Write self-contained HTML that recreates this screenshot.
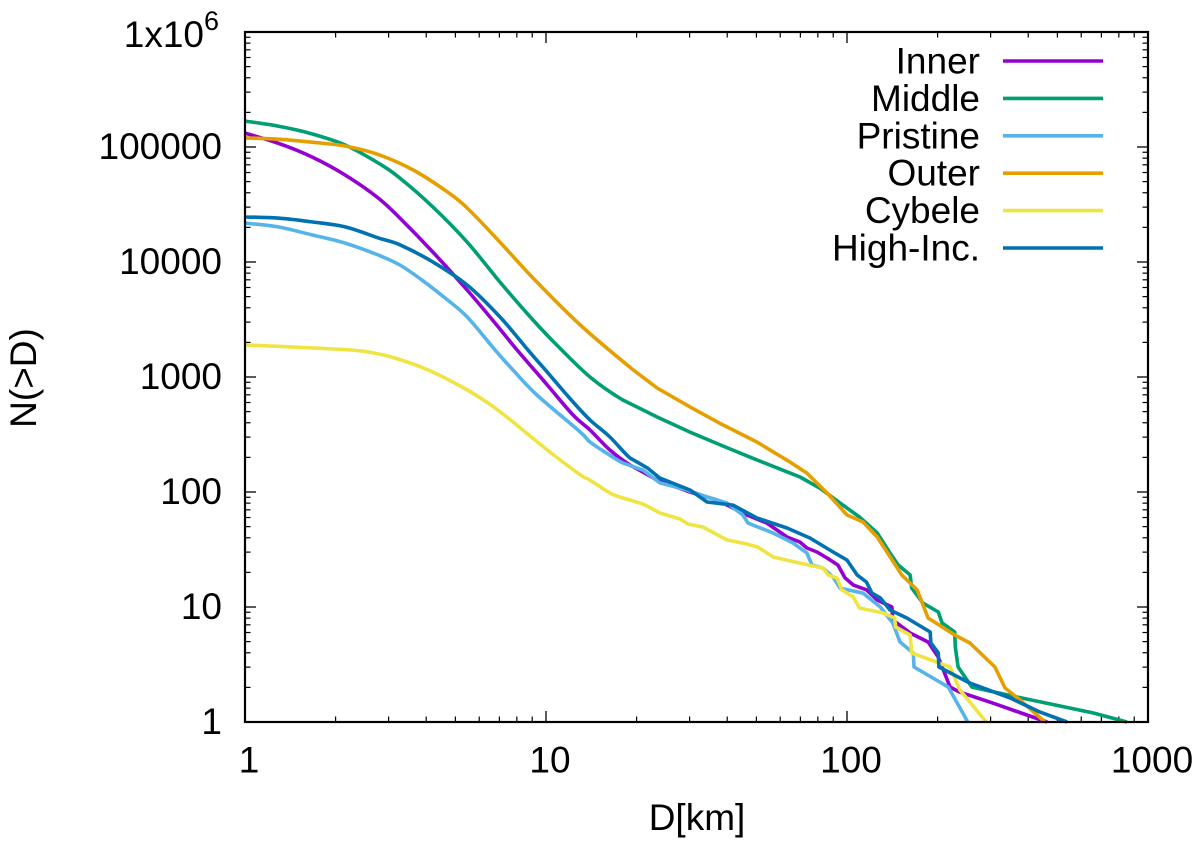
<!DOCTYPE html>
<html>
<head>
<meta charset="utf-8">
<title>N(>D) cumulative size distribution</title>
<style>
html,body{margin:0;padding:0;background:#fff;}
svg{display:block;}
text{font-family:"Liberation Sans",sans-serif;fill:#000;}
</style>
</head>
<body>
<svg id="chart" xmlns="http://www.w3.org/2000/svg" width="1200" height="845" viewBox="0 0 1200 845">
<rect x="0" y="0" width="1200" height="845" fill="#fff"/>
<g id="ticks"></g>
<g id="series"></g>
<rect x="245" y="32" width="903" height="690" fill="none" stroke="#000" stroke-width="2.2"/>
<g id="tick-labels" font-size="37"></g>
<text x="697" y="830" font-size="37" text-anchor="middle">D[km]</text>
<text x="0" y="0" font-size="37" text-anchor="middle" transform="translate(36,378) rotate(-90)">N(&gt;D)</text>
<g id="legend"></g>
</svg>
<script>
const xTickValues = [1, 10, 100, 1000];
const xTickLabels = ["1", "10", "100", "1000"];
const yTickValues = [1, 10, 100, 1000, 10000, 100000, 1000000];
const yTickLabels = ["1", "10", "100", "1000", "10000", "100000", "1x10"];
const seriesNames = ["Inner", "Middle", "Pristine", "Outer", "Cybele", "High-Inc."];

const innerD = [1,1.287,1.67,2.15,2.77,3.27,4.21,5.47,6.77,8.01,10.1,12.3,14,16.3,19,23.4,30.1,37,46.5,54.2,63.2,69.8,73.6,79.5,85.9,93.3,98.5,105,116,126,141,142,162,186,201,220,237,305,396,462];
const innerN = [132000,108000,81900,57100,36000,24100,12200,5710,2950,1720,852,467,346,232,172,127,100,85.2,63.1,53.7,40.6,36.7,32.6,30.1,26.7,23.2,17.9,15.5,14.1,11.5,10,7.71,5.94,4.96,3.67,2.01,1.82,1.46,1.15,1];

const middleD = [1,1.287,1.67,2.15,2.77,3.27,4.21,5.47,7.03,9.05,11.1,14,18,23.4,30.1,38.7,50.2,64.7,69.8,81.3,94.8,110,126,139,148,162,164,179,201,207,228,229,234,260,367,656,851];
const middleN = [168000,152000,130000,104000,72600,53700,30100,14900,6700,3130,1790,1000,631,449,332,251,190,146,135,108,80.2,60.6,44,29.5,23.2,19,14.6,10.8,9.05,7.26,6.06,4.49,3.01,2.01,1.65,1.2,1];

const pristineD = [1,1.287,1.67,2.15,2.77,3.27,3.87,4.62,5.47,6.77,7.77,9.33,13,14,15.9,18,21,23.9,29.4,34.3,39.9,45.1,46.9,56.8,66.2,73.6,76.5,83.2,89.9,94.8,113,129,142,150,166,167,217,252];
const pristineN = [21800,20200,17200,14600,11500,9420,6970,4860,3330,1720,1150,697,332,272,218,179,155,120,104,90.5,80.2,63.1,53.7,44,36,29.5,23.2,21.8,18.2,14.6,13.2,10,7.26,4.96,3.98,3.01,2.01,1];

const outerD = [1,1.287,1.67,2.15,2.77,3.62,4.62,5.47,7.03,9.05,13,19.5,23.4,30.1,38.7,50.2,64.7,73.6,85.9,100,113,126,147,152,171,186,228,256,310,335,376,455];
const outerN = [120000,117000,110000,102000,86000,63100,42000,29500,14900,7260,2830,1150,802,549,383,272,182,146,98,63.1,54.8,40.6,21.8,19,14.1,8.02,5.71,4.86,3.01,1.98,1.55,1];

const cybeleD = [1,1.67,2.45,3.15,4.06,5.26,6.42,7.48,10.1,13,14,16.3,18,21,23.9,27.9,29.6,33.2,39.9,46.5,50.6,56.8,69.8,83.2,86.5,92.6,96.2,105,110,132,144,145,162,164,220,237,290];
const cybeleN = [1900,1790,1680,1460,1150,818,594,440,232,141,127,98,88.7,78.7,65.7,58.2,52.7,49.6,38.3,35.3,33.2,27.2,24.1,21.8,19,17.9,14.1,12.2,9.8,8.87,8.02,6.7,5.71,3.98,3.01,1.9,1];

const highIncD = [1,1.287,1.67,2.15,2.77,3.27,4.21,5.47,7.03,8.71,10.1,12.3,14,16.3,19,21.7,23.9,30.1,34.3,41.8,50.2,63.2,75.3,89.9,100,108,116,121,129,139,158,189,190,201,202,256,348,438,538];
const highIncN = [24600,24100,22300,20200,16200,14100,10000,6310,3330,1720,1100,606,423,301,198,162,132,104,81.8,77,59.4,48.6,39.8,30.1,25.6,19,16.5,13.2,12,9.42,8.02,6.06,4.86,3.98,3.01,2.18,1.62,1.22,1];

const SVGNS = "http://www.w3.org/2000/svg";
const plotLeft = 245, plotRight = 1148, plotTop = 32, plotBottom = 722;
const xMin = 1, xMax = 1000, yMin = 1, yMax = 1000000;
const smoothUntilD = 20;

function xScale(v) {
  return plotLeft + (Math.log10(v) - Math.log10(xMin)) / (Math.log10(xMax) - Math.log10(xMin)) * (plotRight - plotLeft);
}
function yScale(v) {
  return plotBottom - (Math.log10(v) - Math.log10(yMin)) / (Math.log10(yMax) - Math.log10(yMin)) * (plotBottom - plotTop);
}
function make(tag, parent) {
  const el = document.createElementNS(SVGNS, tag);
  parent.appendChild(el);
  return el;
}
function tickLine(parent, x1, y1, x2, y2, width, name) {
  const line = make("line", parent);
  line.setAttribute("x1", x1);
  line.setAttribute("y1", y1);
  line.setAttribute("x2", x2);
  line.setAttribute("y2", y2);
  line.setAttribute("stroke", "#000");
  line.setAttribute("stroke-width", width);
  
  
}
/* curved through the smooth, densely sampled small-D part; straight segments in the stepped tail */
function seriesPath(ds, ns) {
  const px = ds.map(xScale);
  const py = ns.map(yScale);
  let d = "M" + px[0].toFixed(1) + " " + py[0].toFixed(1);
  for (let i = 0; i < px.length - 1; i++) {
    if (ds[i + 1] <= smoothUntilD) {
      const a = Math.max(i - 1, 0);
      const b = Math.min(i + 2, px.length - 1);
      const c1x = px[i] + (px[i + 1] - px[a]) / 6;
      const c1y = py[i] + (py[i + 1] - py[a]) / 6;
      const c2x = px[i + 1] - (px[b] - px[i]) / 6;
      const c2y = py[i + 1] - (py[b] - py[i]) / 6;
      d += "C" + c1x.toFixed(1) + " " + c1y.toFixed(1) + " " + c2x.toFixed(1) + " " + c2y.toFixed(1) + " " + px[i + 1].toFixed(1) + " " + py[i + 1].toFixed(1);
    } else {
      d += "L" + px[i + 1].toFixed(1) + " " + py[i + 1].toFixed(1);
    }
  }
  return d;
}

const ticksGroup = document.getElementById("ticks");
const labelsGroup = document.getElementById("tick-labels");
const majorLen = 11, minorLen = 5.5;

/* x ticks, top and bottom */
for (let i = 0; i < xTickValues.length; i++) {
  const base = xTickValues[i];
  const px = xScale(base);
  tickLine(ticksGroup, px, plotBottom, px, plotBottom - majorLen, 1.3, "x-major-tick");
  tickLine(ticksGroup, px, plotTop, px, plotTop + majorLen, 1.3, "x-major-tick-top");
  if (i < xTickValues.length - 1) {
    for (let m = 2; m < 10; m++) {
      const mx = xScale(base * m);
      tickLine(ticksGroup, mx, plotBottom, mx, plotBottom - minorLen, 1.2, "x-minor-tick");
      tickLine(ticksGroup, mx, plotTop, mx, plotTop + minorLen, 1.2, "x-minor-tick-top");
    }
  }
  const t = make("text", labelsGroup);
  t.setAttribute("x", px + 4);
  t.setAttribute("y", 772.5);
  t.setAttribute("text-anchor", "middle");
  
  
  t.textContent = xTickLabels[i];
}

/* y ticks, left and right */
for (let i = 0; i < yTickValues.length; i++) {
  const base = yTickValues[i];
  const py = yScale(base);
  tickLine(ticksGroup, plotLeft, py, plotLeft + majorLen, py, 1.3, "y-major-tick");
  tickLine(ticksGroup, plotRight, py, plotRight - majorLen, py, 1.3, "y-major-tick-right");
  if (i < yTickValues.length - 1) {
    for (let m = 2; m < 10; m++) {
      const my = yScale(base * m);
      tickLine(ticksGroup, plotLeft, my, plotLeft + minorLen, my, 1.2, "y-minor-tick");
      tickLine(ticksGroup, plotRight, my, plotRight - minorLen, my, 1.2, "y-minor-tick-right");
    }
  }
  const t = make("text", labelsGroup);
  
  
  if (i === yTickValues.length - 1) {
    t.setAttribute("x", 204);
    t.setAttribute("y", 47);
    t.setAttribute("text-anchor", "end");
    t.textContent = yTickLabels[i];
    const sup = make("text", labelsGroup);
    sup.setAttribute("x", 204);
    sup.setAttribute("y", 30);
    sup.setAttribute("font-size", "27");
    
    
    sup.textContent = "6";
  } else {
    t.setAttribute("x", 222);
    t.setAttribute("y", py + 12);
    t.setAttribute("text-anchor", "end");
    t.textContent = yTickLabels[i];
  }
}

/* series */
const seriesGroup = document.getElementById("series");
const seriesX = [innerD, middleD, pristineD, outerD, cybeleD, highIncD];
const seriesY = [innerN, middleN, pristineN, outerN, cybeleN, highIncN];
const seriesColors = ["#9400d3", "#009e73", "#56b4e9", "#e69f00", "#f0e442", "#0072b2"];
const drawOrder = [0, 1, 2, 3, 4, 5];
for (const s of drawOrder) {
  const pl = make("path", seriesGroup);
  pl.setAttribute("d", seriesPath(seriesX[s], seriesY[s]));
  pl.setAttribute("fill", "none");
  pl.setAttribute("stroke", seriesColors[s]);
  pl.setAttribute("stroke-width", "3.6");
  pl.setAttribute("stroke-linejoin", "round");
  
  
}

/* legend */
const legendGroup = document.getElementById("legend");
const legendRowStart = 61, legendRowStep = 37.4;
for (let i = 0; i < seriesNames.length; i++) {
  const rowY = legendRowStart + i * legendRowStep;
  const label = make("text", legendGroup);
  label.setAttribute("x", 980);
  label.setAttribute("y", rowY + 12.5);
  label.setAttribute("font-size", "37");
  label.setAttribute("text-anchor", "end");
  
  
  label.textContent = seriesNames[i];
  const swatch = make("line", legendGroup);
  swatch.setAttribute("x1", 1003);
  swatch.setAttribute("x2", 1103);
  swatch.setAttribute("y1", rowY);
  swatch.setAttribute("y2", rowY);
  swatch.setAttribute("stroke", seriesColors[i]);
  swatch.setAttribute("stroke-width", "3.6");
  
  
}
</script>
</body>
</html>
